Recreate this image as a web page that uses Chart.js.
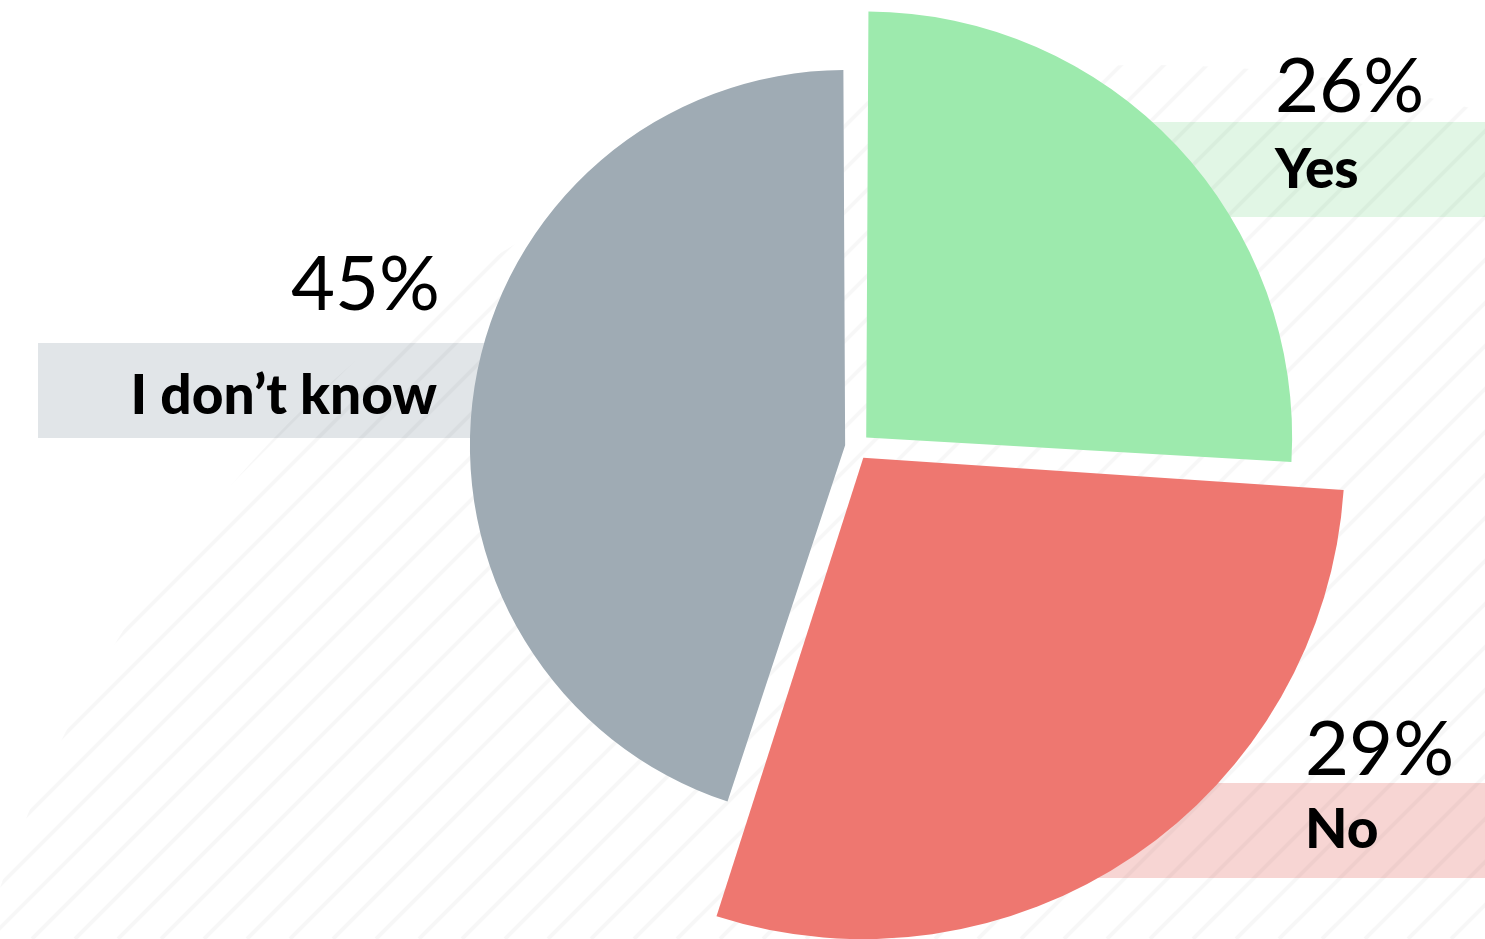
<!DOCTYPE html>
<html>
<head>
<meta charset="utf-8">
<script src="https://cdn.jsdelivr.net/npm/chart.js@4.4.1/dist/chart.umd.min.js"></script>
<style>
  html, body { margin: 0; padding: 0; background: #fff; }
  #wrap { width: 1485px; height: 939px; position: relative; }
</style>
</head>
<body>
<div id="wrap"><canvas id="pieChart"></canvas></div>
<script>
// data
const categories = ['Yes', 'No', 'I don\u2019t know'];
const percentages = [26, 29, 45];

// look
const sliceColors = ['#9deaad', '#ee7770', '#9fabb4'];
const boxColors = ['#e1f6e5', '#f7d5d3', '#e1e5e8'];
const sliceRadius = [423, 481, 374];   // each slice drawn at its own size
const sliceOffset = [56, 52, 44];
// label anchors: [x, pctBaseline, labelBaseline, align, boxLeft, boxRight, boxTop]
const labelPos = [
  [1275, 112, 188, 'left', 1100, 1485, 122],
  [1305, 775, 848, 'left', 1000, 1485, 783],
  [440, 310, 414, 'right', 38, 600, 343]
];

const decor = {
  id: 'decor',
  beforeDatasetsDraw(chart) {
    const ctx = chart.ctx;
    ctx.save();
    // label boxes, under the slices
    labelPos.forEach((p, i) => {
      ctx.fillStyle = boxColors[i];
      ctx.fillRect(p[4], p[6], p[5] - p[4], 95);
    });
    // faint hatching inside a big circle
    ctx.beginPath();
    ctx.arc(1150, 1280, 1215, 0, Math.PI * 2);
    ctx.clip();
    ctx.strokeStyle = 'rgba(0,0,0,0.03)';
    ctx.lineWidth = 4;
    for (let k = -1000; k < 2600; k += 43) {
      ctx.beginPath();
      ctx.moveTo(k, 939);
      ctx.lineTo(k + 939, 0);
      ctx.stroke();
    }
    ctx.restore();
  },
  afterDatasetsDraw(chart) {
    const ctx = chart.ctx;
    ctx.save();
    ctx.fillStyle = '#000';
    labelPos.forEach((p, i) => {
      ctx.textAlign = p[3];
      ctx.textBaseline = 'alphabetic';
      ctx.font = '400 76px Lato, "Open Sans", sans-serif';
      ctx.fillText(percentages[i] + '%', p[0], p[1]);
      ctx.font = '900 55px Lato, "Open Sans", sans-serif';
      ctx.fillText(categories[i], p[0] + (p[3] === 'right' ? -3 : 0), p[2]);
    });
    ctx.restore();
  }
};

const ctx = document.getElementById('pieChart').getContext('2d');
new Chart(ctx, {
  type: 'polarArea',
  data: {
    labels: categories,
    datasets: [{
      data: sliceRadius,
      angle: percentages.map(p => p * 3.6),
      backgroundColor: sliceColors,
      borderWidth: 0,
      offset: sliceOffset
    }]
  },
  options: {
    responsive: true,
    maintainAspectRatio: false,
    animation: false,
    layout: { padding: { left: 409, right: 182, top: 0, bottom: 45 } },
    plugins: {
      legend: { display: false },
      tooltip: { enabled: false }
    },
    scales: {
      r: { display: false, min: 0, max: 459 }
    }
  },
  plugins: [decor]
});
</script>
</body>
</html>
